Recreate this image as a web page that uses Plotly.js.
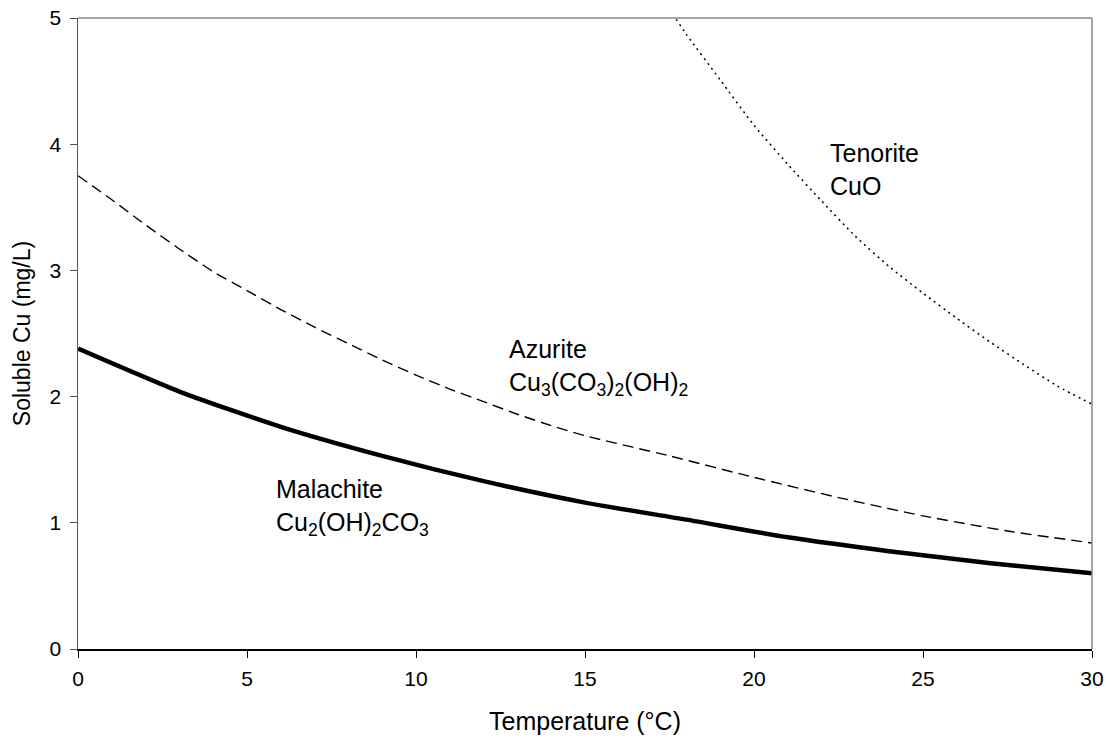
<!DOCTYPE html>
<html>
<head>
<meta charset="utf-8">
<script src="https://cdn.plot.ly/plotly-3.0.1.min.js"></script>
<style>html,body{margin:0;padding:0;background:#fff;}#chart{width:1110px;height:742px;}</style>
</head>
<body>
<div id="chart"></div>
<script>
const malachiteTemp = [0, 3, 6, 9, 12, 15, 18, 21, 24, 27, 30];
const malachite = [2.38, 2.04, 1.76, 1.53, 1.33, 1.16, 1.025, 0.885, 0.775, 0.68, 0.60];
const azuriteTemp = [0, 1, 2, 3, 4, 5, 6, 7, 8, 9, 10, 11, 12, 13, 14, 15, 17.5, 20, 22.5, 25, 27.5, 30];
const azurite = [3.75, 3.56, 3.36, 3.17, 2.99, 2.84, 2.69, 2.55, 2.42, 2.29, 2.17, 2.06, 1.96, 1.86, 1.77, 1.69, 1.53, 1.36, 1.20, 1.055, 0.935, 0.84];
const tenoriteTemp = [17.6, 18, 19, 20, 21, 22, 23, 24, 25, 26, 27, 28, 29, 30];
const tenorite = [5.03, 4.87, 4.51, 4.15, 3.84, 3.55, 3.27, 3.03, 2.82, 2.62, 2.43, 2.25, 2.08, 1.94];

const labelX = [22.2, 12.7, 5.8];
const labelY = [3.80, 2.23, 1.12];
const labelText = [
  'Tenorite<br>CuO',
  'Azurite<br>Cu<sub>3</sub>(CO<sub>3</sub>)<sub>2</sub>(OH)<sub>2</sub>',
  'Malachite<br>Cu<sub>2</sub>(OH)<sub>2</sub>CO<sub>3</sub>'
];

const font = 'Liberation Sans, Arial, sans-serif';
const traces = [
  {x: malachiteTemp, y: malachite, mode: 'lines', line: {color: '#000', width: 4.5, shape: 'spline', smoothing: 0.6}, name: 'Malachite'},
  {x: azuriteTemp, y: azurite, mode: 'lines', line: {color: '#000', width: 1.4, dash: '11px,6px', shape: 'spline', smoothing: 0.6}, name: 'Azurite'},
  {x: tenoriteTemp, y: tenorite, mode: 'lines', line: {color: '#000', width: 1.5, dash: '2px,4px', shape: 'spline', smoothing: 0.6}, name: 'Tenorite'}
];

const layout = {
  width: 1110, height: 742,
  margin: {l: 78, r: 18, t: 18, b: 93},
  paper_bgcolor: '#fff', plot_bgcolor: '#fff',
  showlegend: false,
  font: {family: font, color: '#000', size: 21},
  xaxis: {
    range: [0, 30], dtick: 5, tick0: 0,
    showgrid: false, zeroline: false,
    showline: true, linecolor: '#000', linewidth: 1.5,
    ticks: 'outside', ticklen: 7, tickcolor: '#000', tickwidth: 1,
    ticklabelstandoff: 3,
    tickfont: {family: font, size: 21, color: '#000'},
    title: {text: 'Temperature (°C)', font: {family: font, size: 25, color: '#000'}, standoff: 24}
  },
  yaxis: {
    range: [0, 5], dtick: 1, tick0: 0,
    showgrid: false, zeroline: false,
    showline: true, linecolor: '#555', linewidth: 1.5,
    ticks: 'outside', ticklen: 7, tickcolor: '#555', tickwidth: 1,
    ticklabelstandoff: 4,
    tickfont: {family: font, size: 21, color: '#000'},
    title: {text: 'Soluble Cu (mg/L)', font: {family: font, size: 23, color: '#000'}, standoff: 12}
  },
  shapes: [
    {type: 'line', xref: 'paper', yref: 'paper', x0: 0, x1: 1, y0: 1, y1: 1, line: {color: '#888', width: 1.5}},
    {type: 'line', xref: 'paper', yref: 'paper', x0: 1, x1: 1, y0: 0, y1: 1, line: {color: '#888', width: 1.5}}
  ],
  annotations: labelText.map((t, i) => ({
    x: labelX[i], y: labelY[i], xref: 'x', yref: 'y', text: t, showarrow: false,
    xanchor: 'left', yanchor: 'middle', align: 'left',
    font: {family: font, size: 25, color: '#000'}
  }))
};

Plotly.newPlot('chart', traces, layout, {displayModeBar: false, staticPlot: true});
</script>
</body>
</html>
